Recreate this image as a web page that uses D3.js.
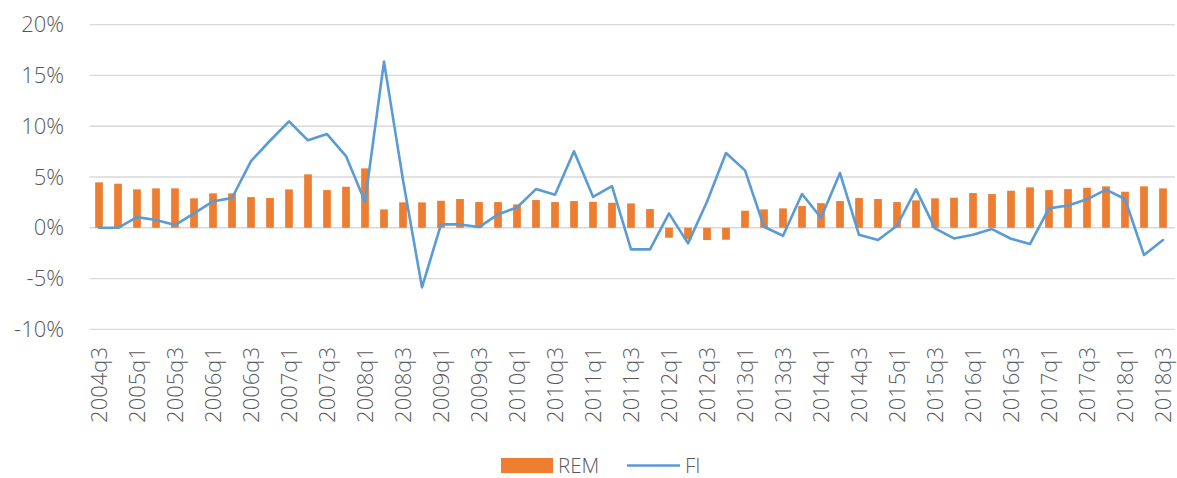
<!DOCTYPE html>
<html>
<head>
<meta charset="utf-8">
<script src="https://cdn.jsdelivr.net/npm/d3@7/dist/d3.min.js"></script>
<style>
  html, body { margin: 0; padding: 0; background: #fff; }
  svg { display: block; }
  text { font-family: "Open Sans", "Liberation Sans", sans-serif; fill: #595959; }
</style>
</head>
<body>
<svg id="chart" width="1177" height="478"></svg>
<script>
const quarters = [
  "2004q3","2004q4",
  "2005q1","2005q2","2005q3","2005q4",
  "2006q1","2006q2","2006q3","2006q4",
  "2007q1","2007q2","2007q3","2007q4",
  "2008q1","2008q2","2008q3","2008q4",
  "2009q1","2009q2","2009q3","2009q4",
  "2010q1","2010q2","2010q3","2010q4",
  "2011q1","2011q2","2011q3","2011q4",
  "2012q1","2012q2","2012q3","2012q4",
  "2013q1","2013q2","2013q3","2013q4",
  "2014q1","2014q2","2014q3","2014q4",
  "2015q1","2015q2","2015q3","2015q4",
  "2016q1","2016q2","2016q3","2016q4",
  "2017q1","2017q2","2017q3","2017q4",
  "2018q1","2018q2","2018q3"];

const rem = [4.47, 4.34, 3.78, 3.88, 3.88, 2.90, 3.39, 3.39, 3.02, 2.93,
  3.78, 5.26, 3.71, 4.04, 5.85, 1.81, 2.50, 2.50, 2.66, 2.83,
  2.53, 2.53, 2.30, 2.73, 2.53, 2.63, 2.56, 2.46, 2.40, 1.84,
  -0.98, -1.15, -1.21, -1.18, 1.68, 1.81, 1.91, 2.14, 2.43, 2.63,
  2.93, 2.83, 2.53, 2.70, 2.90, 2.96, 3.42, 3.32, 3.65, 3.98,
  3.71, 3.81, 3.94, 4.08, 3.55, 4.08, 3.88];

const fi = [0.00, 0.00, 1.05, 0.76, 0.27, 1.42, 2.60, 2.93, 6.57, 8.57,
  10.48, 8.61, 9.23, 7.06, 2.56, 16.36, 4.70, -5.87, 0.33, 0.33,
  0.07, 1.32, 2.00, 3.81, 3.25, 7.53, 3.05, 4.11, -2.13, -2.13,
  1.42, -1.54, 2.56, 7.36, 5.65, 0.10, -0.79, 3.32, 0.99, 5.39,
  -0.69, -1.21, 0.20, 3.78, -0.06, -1.05, -0.69, -0.13, -1.08, -1.61,
  1.91, 2.20, 2.80, 3.75, 2.83, -2.69, -1.21];

const yTicks = [-10, -5, 0, 5, 10, 15, 20];
const seriesNames = ["REM", "FI"];
const colors = { REM: "#ED7D31", FI: "#5B9BD5" };

const svg = d3.select("#chart");
const plotL = 89.5, plotR = 1172.5, plotT = 24.7, plotB = 329.3;

const x = d3.scaleBand().domain(quarters).range([plotL, plotR]).paddingInner(0).paddingOuter(0);
const y = d3.scaleLinear().domain([-10, 20]).range([plotB, plotT]);

// gridlines
svg.append("g").selectAll("line").data(yTicks).join("line")
  .attr("x1", plotL).attr("x2", 1175)
  .attr("y1", d => y(d)).attr("y2", d => y(d))
  .attr("stroke", "#D9D9D9").attr("stroke-width", 1.3);

// y axis labels
const yAxis = d3.axisLeft(y).tickValues(yTicks).tickFormat(d => d + "%").tickSize(0).tickPadding(0);
const gy = svg.append("g").attr("transform", "translate(64,0)").call(yAxis);
gy.select(".domain").remove();
gy.selectAll("text").attr("font-size", 22).attr("font-weight", 300)
  .attr("font-family", "'Open Sans', 'Liberation Sans', sans-serif").attr("fill", "#595959");

// bars
const bw = 7.7;
svg.append("g").selectAll("rect").data(rem).join("rect")
  .attr("x", (d, i) => x(quarters[i]) + x.bandwidth() / 2 - bw / 2)
  .attr("width", bw)
  .attr("y", d => y(Math.max(0, d)))
  .attr("height", d => Math.abs(y(d) - y(0)))
  .attr("fill", colors.REM);

// line
const line = d3.line().x((d, i) => x(quarters[i]) + x.bandwidth() / 2).y(d => y(d));
svg.append("path").datum(fi).attr("d", line)
  .attr("fill", "none").attr("stroke", colors.FI).attr("stroke-width", 2.6)
  .attr("stroke-linejoin", "round").attr("stroke-linecap", "round");

// x axis labels (every other quarter)
const xAxis = d3.axisBottom(x).tickValues(quarters.filter((d, i) => i % 2 === 0)).tickSize(0).tickPadding(0);
const gx = svg.append("g").attr("transform", "translate(0,347)").call(xAxis);
gx.select(".domain").remove();
gx.selectAll("text")
  .attr("transform", "rotate(-90)")
  .attr("text-anchor", "end")
  .attr("x", 0).attr("y", 0).attr("dy", "0.35em")
  .attr("font-size", 22).attr("font-weight", 300)
  .attr("font-family", "'Open Sans', 'Liberation Sans', sans-serif").attr("fill", "#595959");

// legend
const ly = 465.5;
const lg = svg.append("g");
lg.append("rect").attr("x", 501).attr("y", ly - 7.5).attr("width", 52).attr("height", 15).attr("fill", colors.REM);
lg.append("text").attr("x", 558).attr("y", ly).attr("dy", "0.35em").attr("font-size", 20.5).attr("font-weight", 300).text(seriesNames[0]);
lg.append("line").attr("x1", 627).attr("x2", 680).attr("y1", ly).attr("y2", ly)
  .attr("stroke", colors.FI).attr("stroke-width", 2.6);
lg.append("text").attr("x", 685).attr("y", ly).attr("dy", "0.35em").attr("font-size", 20.5).attr("font-weight", 300).text(seriesNames[1]);
</script>
</body>
</html>
